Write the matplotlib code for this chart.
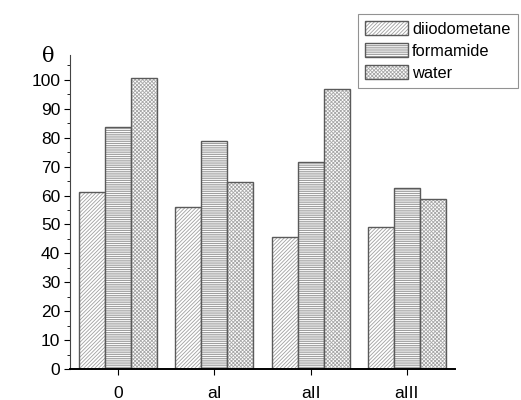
import matplotlib
matplotlib.use("Agg")
import matplotlib.pyplot as plt
from matplotlib.legend_handler import HandlerTuple
import numpy as np

categories = ["0", "aI", "aII", "aIII"]
series_names = ["diiodometane", "formamide", "water"]
diiodometane = [61.3, 56.0, 45.8, 49.0]
formamide = [83.6, 79.0, 71.6, 62.7]
water = [100.6, 64.8, 96.8, 58.9]
yticks = [0, 10, 20, 30, 40, 50, 60, 70, 80, 90, 100]

plt.rcParams['font.family'] = ['Liberation Sans', 'DejaVu Sans']
plt.rcParams['hatch.linewidth'] = 0.6

fig = plt.figure(figsize=(5.21, 4.0), dpi=100)
ax = fig.add_axes([70/521, 31/400, (455-70)/521, (369-55)/400])

x = np.arange(len(categories))
w = 0.27
hatches = ['/' * 9, '-' * 9, 'x' * 9]
hatch_colors = ['#a0a0a0', '#8c8c8c', '#a8a8a8']
data = [diiodometane, formamide, water]
handles = []
for i, (vals, h, hc) in enumerate(zip(data, hatches, hatch_colors)):
    hb = ax.bar(x + (i - 1) * w, vals, width=w, facecolor='white', edgecolor=hc,
                hatch=h, linewidth=0)
    ob = ax.bar(x + (i - 1) * w, vals, width=w, facecolor='none', edgecolor='#5a5a5a',
                linewidth=1.0)
    handles.append((hb, ob))

ax.set_xlim(-0.5, 3.5)
ax.set_ylim(0, 108.6)
ax.set_yticks(yticks)
ax.set_yticks(np.arange(5, 106, 10), minor=True)
ax.set_xticks(x)
ax.set_xticklabels(categories)
ax.spines['top'].set_visible(False)
ax.spines['right'].set_visible(False)
ax.spines['left'].set_color('#444444')
ax.spines['bottom'].set_linewidth(1.4)
ax.tick_params(axis='y', which='major', direction='out', length=4, labelsize=12.5, pad=3)
ax.tick_params(axis='y', which='minor', direction='out', length=2)
ax.tick_params(axis='x', direction='out', length=4, labelsize=12.5, pad=8)

fig.text(48/521, 1 - 57/400, 'θ', family='DejaVu Serif', fontsize=15, ha='center', va='center')

leg = ax.legend(handles, series_names, handler_map={tuple: HandlerTuple(ndivide=1, pad=0)},
                loc='upper left', bbox_to_anchor=(358/521, 1 - 14/400),
                bbox_transform=fig.transFigure, fancybox=False, edgecolor='#777777',
                fontsize=11.8, handlelength=2.6, handleheight=0.9, borderpad=0.45,
                labelspacing=0.4, handletextpad=0.25, borderaxespad=0)
leg.get_frame().set_linewidth(0.8)

fig.savefig('out.png', dpi=100)
